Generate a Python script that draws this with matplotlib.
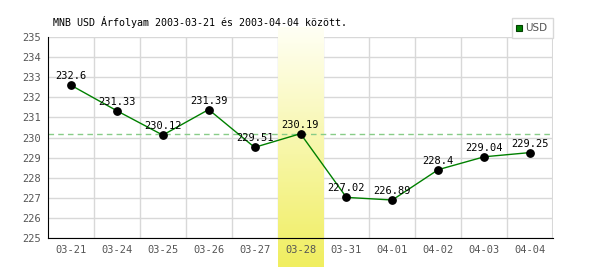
import matplotlib
matplotlib.use('Agg')
import matplotlib.pyplot as plt
import numpy as np
from matplotlib.patches import Rectangle
from matplotlib.colors import LinearSegmentedColormap

dates = ['03-21', '03-24', '03-25', '03-26', '03-27', '03-28',
         '03-31', '04-01', '04-02', '04-03', '04-04']
usd = [232.6, 231.33, 230.12, 231.39, 229.51, 230.19,
       227.02, 226.89, 228.4, 229.04, 229.25]
ref_level = 230.18
highlight = '03-28'
title = 'MNB USD Árfolyam 2003-03-21 és 2003-04-04 között.'

mono = 'DejaVu Sans Mono'
fig = plt.figure(figsize=(6, 2.7), dpi=100)
ax = fig.add_axes([48/600, 32/270, 505/600, 201/270])

x = np.arange(len(dates))
ax.set_xlim(-0.5, len(dates) - 0.5)
ax.set_ylim(225, 235)

# grid
for v in np.arange(225, 236, 1):
    ax.axhline(v, color='#d8d8d8', lw=1, zorder=0)
for b in np.arange(0.5, len(dates), 1):
    ax.axvline(b, color='#d8d8d8', lw=1, zorder=0)
ax.axvline(len(dates) - 0.5, color='#d8d8d8', lw=1.5, zorder=0)

# highlighted day, gradient white -> yellow, reaching below the axis
hi = dates.index(highlight)
cmap = LinearSegmentedColormap.from_list('hl', ['#fffff4', '#f0ee60'])
grad = np.linspace(0, 1, 100).reshape(-1, 1)
im = ax.imshow(grad, cmap=cmap, aspect='auto', origin='upper',
               extent=[hi - 0.5, hi + 0.5, 223.55, 235.45], zorder=1)
im.set_clip_on(False)

ax.axhline(ref_level, color='#88cc88', lw=1, ls=(0, (4, 3)), zorder=2)

ax.plot(x, usd, color='#008000', lw=1, zorder=3)
ax.scatter(x, usd, s=28, color='black', zorder=4)
for xi, v in zip(x, usd):
    ax.text(xi, v + 0.2, f'{v:g}', ha='center', va='bottom',
            fontsize=7.5, family=mono, color='black', zorder=5)

for s in ['top', 'right']:
    ax.spines[s].set_visible(False)
ax.spines['left'].set_color('black')
ax.spines['bottom'].set_color('black')
ax.spines['left'].set_zorder(6)
ax.spines['bottom'].set_zorder(6)

ax.set_xticks(x)
ax.set_xticklabels(dates)
ax.set_yticks(np.arange(225, 236, 1))
ax.tick_params(length=0, labelsize=7.5, colors='#555555', pad=5)
for lab in ax.get_xticklabels() + ax.get_yticklabels():
    lab.set_family(mono)

fig.text(53/600, 1 - 22/270, title, fontsize=7.2, family=mono,
         color='black', va='center', ha='left')

# legend box
fig.patches.append(Rectangle((512/600, 1 - 38/270), 41/600, 20/270,
                             transform=fig.transFigure, fill=True,
                             facecolor='white', edgecolor='#d8d8d8', lw=1))
fig.patches.append(Rectangle((516/600, 1 - 31/270), 6/600, 6/270,
                             transform=fig.transFigure, facecolor='#008000',
                             edgecolor='#004000', lw=0.8))
fig.text(525/600, 1 - 28/270, 'USD', fontsize=7.5, color='#555555',
         va='center', ha='left')

fig.savefig('out.png', dpi=100)
